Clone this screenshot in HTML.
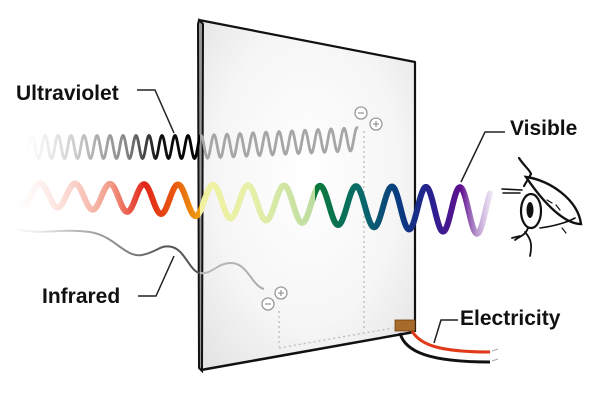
<!DOCTYPE html>
<html><head><meta charset="utf-8"><style>
html,body{margin:0;padding:0;background:#fff;}
svg{display:block}
text{font-family:"Liberation Sans",sans-serif;font-weight:bold;fill:#111;}
</style></head><body>
<svg id="s" width="600" height="409" viewBox="0 0 600 409" xmlns="http://www.w3.org/2000/svg">
<defs>
<radialGradient id="pg" cx="0.5" cy="0.45" r="0.7">
<stop offset="0" stop-color="#ffffff"/><stop offset="0.6" stop-color="#f6f6f6"/><stop offset="1" stop-color="#e4e4e4"/>
</radialGradient>
<linearGradient id="vg" gradientUnits="userSpaceOnUse" x1="15" y1="0" x2="495" y2="0">
<stop offset="0" stop-color="#fbe8e4" stop-opacity="0"/>
<stop offset="0.08" stop-color="#fbd8d0" stop-opacity="0.6"/>
<stop offset="0.2" stop-color="#f29a86"/>
<stop offset="0.27" stop-color="#e2261a"/>
<stop offset="0.33" stop-color="#e8560f"/>
<stop offset="0.385" stop-color="#f0a010"/>
<stop offset="0.385" stop-color="#f2f2a0"/>
<stop offset="0.5" stop-color="#e4efa8"/>
<stop offset="0.625" stop-color="#bcdca0"/>
<stop offset="0.625" stop-color="#0a7a3a"/>
<stop offset="0.72" stop-color="#0a6a6a"/>
<stop offset="0.8" stop-color="#0a3a80"/>
<stop offset="0.87" stop-color="#2a2090"/>
<stop offset="0.93" stop-color="#60108f"/>
<stop offset="1" stop-color="#c8b0dc" stop-opacity="0.2"/>
</linearGradient>
<linearGradient id="ug" gradientUnits="userSpaceOnUse" x1="25" y1="0" x2="360" y2="0">
<stop offset="0" stop-color="#ddd" stop-opacity="0"/>
<stop offset="0.15" stop-color="#ccc"/>
<stop offset="0.3" stop-color="#888"/>
<stop offset="0.4" stop-color="#111"/>
<stop offset="0.522" stop-color="#000"/>
<stop offset="0.522" stop-color="#a6a6a6"/>
<stop offset="1" stop-color="#a6a6a6"/>
</linearGradient>
<linearGradient id="ig" gradientUnits="userSpaceOnUse" x1="10" y1="0" x2="270" y2="0">
<stop offset="0" stop-color="#ddd" stop-opacity="0"/>
<stop offset="0.25" stop-color="#bbb"/>
<stop offset="0.6" stop-color="#555"/>
<stop offset="0.73" stop-color="#555"/>
<stop offset="0.73" stop-color="#bbb"/>
<stop offset="1" stop-color="#aaa"/>
</linearGradient>
</defs>
<polygon points="199,20 415,62 415,332 201,370" fill="url(#pg)"/>
<polyline points="415,332 415,62 199,20" fill="none" stroke="#111" stroke-width="2.2" stroke-linejoin="round"/>
<line x1="414" y1="332" x2="201" y2="370" stroke="#111" stroke-width="2.5"/>
<path d="M199,20 L198,24 L199,368 L202,371 L203,24 Z" fill="#999" stroke="#111" stroke-width="2"/>
<g stroke="#bbb" stroke-width="1.3" stroke-dasharray="2,3" fill="none">
<line x1="364" y1="131" x2="364" y2="328"/>
<line x1="279" y1="311" x2="279" y2="347"/>
<line x1="279" y1="348" x2="393" y2="328"/>
</g>
<g fill="#fff" stroke="#999" stroke-width="1.3">
<circle cx="361" cy="113" r="6"/><circle cx="376" cy="124" r="6"/>
<circle cx="268" cy="304" r="6"/><circle cx="281" cy="293" r="6"/>
</g>
<g stroke="#999" stroke-width="1.3">
<line x1="358" y1="113" x2="364" y2="113"/>
<line x1="373" y1="124" x2="379" y2="124"/><line x1="376" y1="121" x2="376" y2="127"/>
<line x1="265" y1="304" x2="271" y2="304"/>
<line x1="278" y1="293" x2="284" y2="293"/><line x1="281" y1="290" x2="281" y2="296"/>
</g>
<path id="uv" fill="none" stroke="url(#ug)" stroke-width="2.8" stroke-linecap="round"/>
<path id="vis" fill="none" stroke="url(#vg)" stroke-width="6" stroke-linecap="round"/>
<path d="M12,228 C40,236 60,228 90,232 C115,236 125,258 142,255 C158,252 160,244 172,247 C185,250 190,272 200,273 C212,275 218,262 232,263 C248,264 252,286 264,289" fill="none" stroke="url(#ig)" stroke-width="2"/>
<path d="M412,331 C420,345 440,352 490,352" fill="none" stroke="#e03a1a" stroke-width="3"/>
<path d="M400,333 C405,352 430,362 490,362" fill="none" stroke="#111" stroke-width="3"/>
<line x1="492" y1="351" x2="498" y2="349" stroke="#aaa" stroke-width="1"/>
<line x1="492" y1="361" x2="498" y2="359" stroke="#aaa" stroke-width="1"/>
<rect x="395" y="320" width="20" height="11" fill="#a86a2a" stroke="#6b4010" stroke-width="0.8"/>
<g fill="none" stroke="#222" stroke-width="1.5">
<polyline points="137,90 155,90 174,133"/>
<polyline points="138,296 156,296 174,256"/>
<polyline points="505,132 485,132 461,182"/>
<polyline points="458,320 441,320 434,343"/>
</g>
<text x="16" y="100" font-size="21">Ultraviolet</text>
<text x="42" y="303" font-size="21">Infrared</text>
<text x="510" y="135" font-size="21">Visible</text>
<text x="460" y="325" font-size="21">Electricity</text>
<g fill="none" stroke="#111" stroke-linecap="round">
<path d="M519,158 C524,166 530,170 531,174" stroke-width="2.2"/>
<path d="M531,174 L524,186" stroke-width="2.2"/>
<path d="M526,177 C550,180 578,200 581,224 C565,224 545,205 526,177 Z" stroke-width="2.4" fill="#fff"/>
<path d="M502,189 L522,190 M503,193 L520,193" stroke-width="1.6"/>
<ellipse cx="531" cy="211" rx="10" ry="17" stroke-width="2.2" fill="#fff"/>
<ellipse cx="530" cy="210" rx="3.5" ry="8" fill="#111" stroke="none"/>
<path d="M540,228 C555,226 568,222 575,218" stroke-width="1.6"/>
<path d="M528,228 C525,236 520,236 515,240 M525,232 C532,240 532,246 530,256 M520,236 L512,238" stroke-width="1.8"/>
<path d="M547,200 L552,203 M556,205 L560,210 M562,228 L566,233" stroke-width="1.2"/>
</g>
</svg>
<script>
(function(){
function sine(x0,x1,period,phaseX,ampF,cenF,step){
 var d="";
 for(var x=x0;x<=x1;x+=step){
  var y=cenF(x)-ampF(x)*Math.cos(2*Math.PI*(x-phaseX)/period);
  d+=(x===x0?"M":"L")+x.toFixed(2)+","+y.toFixed(2);
 }
 return d;
}
document.getElementById('uv').setAttribute('d',
 sine(28,357,13,357,function(x){return 11.5;},function(x){return 147-(x>200?(x-200)*0.05:0);},0.5));
var crests=[40,75,110,144,178,213,248,284,320,356,392,426,460];
var d="";
for(var x=18;x<=490;x+=0.5){
 var ph;
 if(x<crests[0]){ph=(x-crests[0])/35;}
 else if(x>=crests[crests.length-1]){ph=crests.length-1+(x-crests[crests.length-1])/34;}
 else{for(var i=0;i<crests.length-1;i++){if(x>=crests[i]&&x<crests[i+1]){ph=i+(x-crests[i])/(crests[i+1]-crests[i]);break;}}}
 var t=(x-18)/472;
 var amp=11+t*12.5, cen=194+t*17;
 var y=cen-amp*Math.cos(2*Math.PI*ph);
 d+=(x===18?"M":"L")+x.toFixed(2)+","+y.toFixed(2);
}
document.getElementById('vis').setAttribute('d',d);
})();
</script>
</body></html>
